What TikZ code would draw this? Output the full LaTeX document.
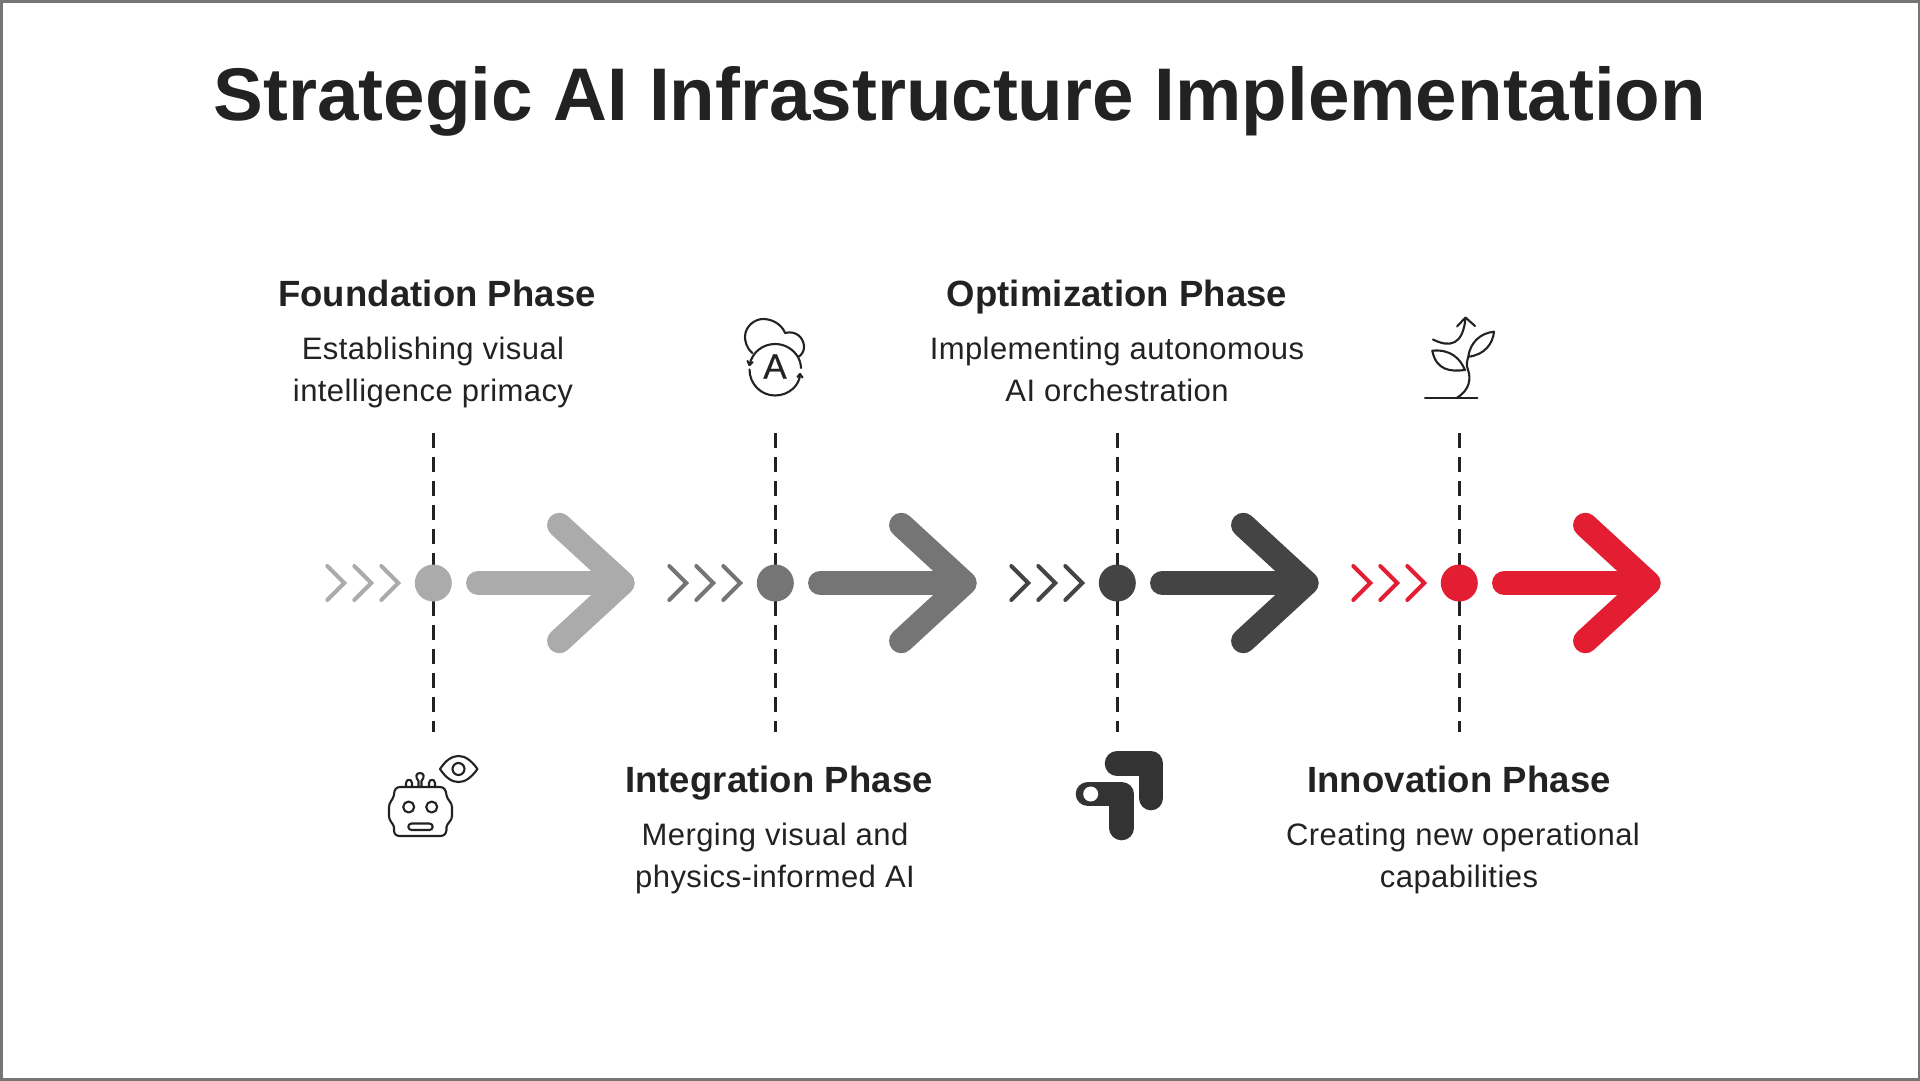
\documentclass[tikz,border=0pt]{standalone}
\usepackage{fontspec}
\setmainfont{Liberation Sans}
\newfontfamily\bodyfam[LetterSpace=1.4]{Liberation Sans}
\newfontfamily\headfam[LetterSpace=0.3]{Liberation Sans}
\newfontfamily\glyphfam[FakeBold=0.6]{Liberation Sans}
\definecolor{gA}{HTML}{ABABAB}
\definecolor{gB}{HTML}{757575}
\definecolor{gC}{HTML}{444444}
\definecolor{rD}{HTML}{E31E33}
\definecolor{ink}{HTML}{222222}
\definecolor{solidicon}{HTML}{333333}
\tikzset{
 x=1pt,y=-1pt,
 titletext/.style={font=\fontsize{74.6}{80}\selectfont\bfseries,text=ink,anchor=base,inner sep=0},
 headtext/.style={font=\headfam\fontsize{36.5}{40}\selectfont\bfseries,text=ink,anchor=base,inner sep=0},
 bodytext/.style={font=\bodyfam\fontsize{31}{36}\selectfont,text=ink,anchor=base,inner sep=0},
 dashline/.style={draw=ink,line width=2.8pt,dash pattern=on 14.5pt off 9.5pt},
 icon/.style={draw=ink,line width=2.1pt,line cap=round,line join=round},
}
\newcommand{\phasemark}[3]{% x, colour, name
 \begin{scope}[shift={(#1,0)}]
  \coordinate (#3top) at (0,433);
  \coordinate (#3bot) at (0,732);
  \draw[dashline] (#3top) -- (#3bot);
  \node[circle,fill=#2,minimum size=37pt,inner sep=0] (#3dot) at (0,583) {};
  \foreach \d in {0,27,54}{
   \draw[#2,line width=4pt,line cap=round,line join=miter] (-106+\d,566) -- (-89+\d,583) -- (-106+\d,600);
  }
  \draw[#2,line width=24.5pt,line cap=round,line join=round] (45,583) -- (189,583);
  \draw[#2,line width=24.5pt,line cap=round,line join=round] (126,525) -- (189,583) -- (126,641);
 \end{scope}
}
\begin{document}
\begin{tikzpicture}
\useasboundingbox (0,0) rectangle (1920,1080);
\draw[color=gB,line width=3pt] (1,1) rectangle (1919,1079);
\node[titletext] (title) at (960,120) {Strategic AI Infrastructure Implementation};
\phasemark{433.3}{gA}{a}
\phasemark{775.3}{gB}{b}
\phasemark{1117.3}{gC}{c}
\phasemark{1459.3}{rD}{d}
\node[headtext] (h1) at (437,306) {Foundation Phase};
\node[bodytext] (t1a) at (433,359) {Establishing visual};
\node[bodytext] (t1b) at (433,401) {intelligence primacy};
\node[headtext] (h2) at (779,792) {Integration Phase};
\node[bodytext] (t2a) at (775,845) {Merging visual and};
\node[bodytext] (t2b) at (775,887) {physics-informed AI};
\node[headtext] (h3) at (1117,306) {Optimization Phase};
\node[bodytext] (t3a) at (1117,359) {Implementing autonomous};
\node[bodytext] (t3b) at (1117,401) {AI orchestration};
\node[headtext] (h4) at (1459,792) {Innovation Phase};
\node[bodytext] (t4a) at (1463,845) {Creating new operational};
\node[bodytext] (t4b) at (1459,887) {capabilities};
% robot
\begin{scope}[icon]
\draw (400,787) -- (440,787) .. controls (444,787) and (446,790) .. (446.5,795)
 .. controls (447,800) and (452,802) .. (452,807) -- (452,816)
 .. controls (452,821) and (447,823) .. (446.5,827) -- (446.5,830)
 .. controls (446,834) and (444,836) .. (440,836) -- (400,836)
 .. controls (396,836) and (394,834) .. (394,830) -- (394,827)
 .. controls (393,823) and (389,821) .. (389,816) -- (389,807)
 .. controls (389,802) and (393,800) .. (394,795)
 .. controls (394,790) and (396,787) .. (400,787) -- cycle;
\draw (408.7,807) circle (5.5);
\draw (431.7,807) circle (5.5);
\draw[rounded corners=3.2] (408.3,823.5) rectangle (432.7,830);
\draw (418.5,786) -- (418.5,781) .. controls (415,777) and (416,773) .. (420,773) .. controls (424,773) and (425,777) .. (421.5,781) -- (421.5,786);
\draw (406,786) -- (406,783) .. controls (406,780) and (408,780) .. (409,780) .. controls (410,780) and (412,780) .. (412,783) -- (412,786);
\draw (429,786) -- (429,783) .. controls (429,780) and (431,780) .. (432,780) .. controls (433,780) and (435,780) .. (435,783) -- (435,786);
\draw (440,769) .. controls (446,760) and (452,756) .. (458.5,756) .. controls (465,756) and (471,760) .. (477.5,769)
 .. controls (471,778) and (465,782) .. (458.5,782) .. controls (452,782) and (446,778) .. (440,769) -- cycle;
\draw (458.5,769) circle (6);
\end{scope}
% cloud A
\begin{scope}[icon]
\draw (752.5,353) .. controls (746,348) and (745,340) .. (745,337) .. controls (745,326) and (755,319) .. (763,319)
 .. controls (775,319) and (783,327) .. (785,333) .. controls (796,330) and (804,338) .. (804,347) .. controls (804,351) and (802,355) .. (798,357);
\draw (749.5,365) .. controls (752,352) and (763,344) .. (775,344) .. controls (785,344) and (793,349) .. (798,357) .. controls (800,361) and (801,365) .. (801,368);
\draw (749.5,369.5) .. controls (749.5,384) and (761,395.5) .. (775,395.5) .. controls (789,395.5) and (800,385) .. (800,374);
\draw (747.5,361) -- (749.5,365) -- (752.5,362);
\draw (797.5,377) -- (800,374) -- (802.5,377.5);
\node[font=\glyphfam\fontsize{35}{35}\selectfont,text=ink,anchor=base,inner sep=0] (aglyph) at (775,378.5) {A};
\end{scope}
% dark icon
\draw[color=solidicon,line width=24.6pt,line cap=round,line join=round] (1117,763.5) -- (1151,763.5) -- (1151,798);
\draw[color=solidicon,line width=24.6pt,line cap=round,line join=round] (1088,794) -- (1121.7,794) -- (1121.7,828);
\fill[white] (1090.7,794) circle (7.5);
% plant
\begin{scope}[icon]
\draw (1425,397.7) -- (1477.3,397.7);
\draw (1457,397.7) .. controls (1470,390) and (1471,378) .. (1468,370) .. controls (1466,365) and (1467,361) .. (1468.3,356.7);
\draw (1468.3,356.7) .. controls (1470,343) and (1480,333) .. (1494,331.7) .. controls (1493,343) and (1485,355) .. (1468.3,356.7) -- cycle;
\draw (1432.3,350.7) .. controls (1450,349) and (1460,358) .. (1465,370) .. controls (1450,372) and (1436,370) .. (1432.3,350.7) -- cycle;
\draw (1433,339.5) .. controls (1450,348) and (1463,345) .. (1465.5,318);
\draw (1457,326.5) -- (1465.5,317.5) -- (1475,326);
\end{scope}
\end{tikzpicture}
\end{document}
